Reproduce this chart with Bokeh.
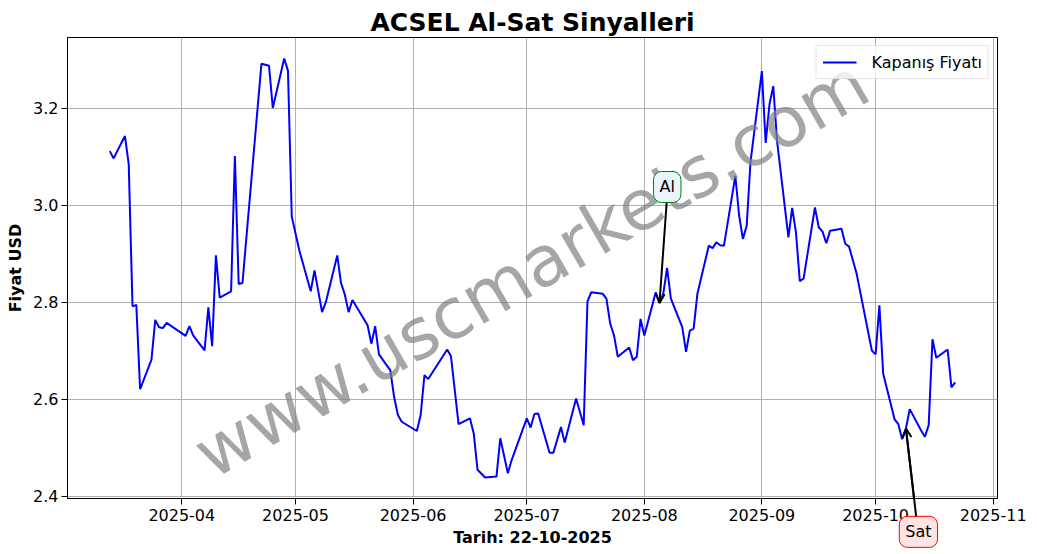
import pandas as pd
from bokeh.plotting import figure
from bokeh.models import (Range1d, FixedTicker, DatetimeTickFormatter, PrintfTickFormatter,
                          Label, Arrow, OpenHead, Legend, LegendItem)
from bokeh.core.properties import value
from bokeh.embed import file_html
from bokeh.resources import INLINE

# ---------------- data ----------------
dates = [
    "2025-03-13", "2025-03-14", "2025-03-17", "2025-03-18", "2025-03-19", "2025-03-20", "2025-03-21",
    "2025-03-24", "2025-03-25", "2025-03-26", "2025-03-27", "2025-03-28",
    "2025-04-02", "2025-04-03", "2025-04-04", "2025-04-07", "2025-04-08", "2025-04-09", "2025-04-10",
    "2025-04-11", "2025-04-14", "2025-04-15", "2025-04-16", "2025-04-17", "2025-04-22", "2025-04-24",
    "2025-04-25", "2025-04-28", "2025-04-29", "2025-04-30",
    "2025-05-02", "2025-05-05", "2025-05-06", "2025-05-08", "2025-05-09", "2025-05-12", "2025-05-13",
    "2025-05-14", "2025-05-15", "2025-05-16", "2025-05-20", "2025-05-21", "2025-05-22", "2025-05-23",
    "2025-05-26", "2025-05-27", "2025-05-28", "2025-05-29",
    "2025-06-02", "2025-06-03", "2025-06-04", "2025-06-05", "2025-06-10", "2025-06-11", "2025-06-13",
    "2025-06-16", "2025-06-17", "2025-06-18", "2025-06-20", "2025-06-23", "2025-06-24", "2025-06-26",
    "2025-06-27", "2025-06-30",
    "2025-07-01", "2025-07-02", "2025-07-03", "2025-07-04", "2025-07-07", "2025-07-08", "2025-07-10",
    "2025-07-11", "2025-07-14", "2025-07-16", "2025-07-17", "2025-07-18", "2025-07-21", "2025-07-22",
    "2025-07-23", "2025-07-24", "2025-07-25", "2025-07-28", "2025-07-29", "2025-07-30", "2025-07-31",
    "2025-08-01", "2025-08-04", "2025-08-05", "2025-08-06", "2025-08-07", "2025-08-08", "2025-08-11",
    "2025-08-12", "2025-08-13", "2025-08-14", "2025-08-15", "2025-08-18", "2025-08-19", "2025-08-20",
    "2025-08-21", "2025-08-22", "2025-08-25", "2025-08-26", "2025-08-27", "2025-08-28", "2025-08-29",
    "2025-09-01", "2025-09-02", "2025-09-03", "2025-09-04", "2025-09-05", "2025-09-08", "2025-09-09",
    "2025-09-10", "2025-09-11", "2025-09-12", "2025-09-15", "2025-09-16", "2025-09-17", "2025-09-18",
    "2025-09-19", "2025-09-22", "2025-09-23", "2025-09-24", "2025-09-26", "2025-09-30",
    "2025-10-01", "2025-10-02", "2025-10-03", "2025-10-06", "2025-10-07", "2025-10-08", "2025-10-09",
    "2025-10-10", "2025-10-13", "2025-10-14", "2025-10-15", "2025-10-16", "2025-10-17", "2025-10-20",
    "2025-10-21", "2025-10-22",
]
close = [
    3.112, 3.097, 3.143, 3.085, 2.792, 2.795, 2.621,
    2.682, 2.764, 2.749, 2.747, 2.758,
    2.731, 2.751, 2.732, 2.701, 2.790, 2.710, 2.897,
    2.810, 2.823, 3.102, 2.838, 2.840, 3.292, 3.288,
    3.201, 3.303, 3.278, 2.977,
    2.907, 2.823, 2.866, 2.780, 2.801, 2.897, 2.840,
    2.816, 2.780, 2.805, 2.753, 2.715, 2.751, 2.693,
    2.660, 2.605, 2.568, 2.554,
    2.535, 2.568, 2.650, 2.642, 2.703, 2.689, 2.549,
    2.561, 2.530, 2.455, 2.439, 2.441, 2.520, 2.448,
    2.475, 2.540,
    2.561, 2.542, 2.570, 2.571, 2.490, 2.490, 2.543,
    2.511, 2.602, 2.547, 2.802, 2.821, 2.818, 2.808,
    2.756, 2.732, 2.688, 2.707, 2.681, 2.688, 2.766,
    2.732, 2.821, 2.799, 2.818, 2.871, 2.808, 2.749,
    2.698, 2.742, 2.746, 2.818, 2.917, 2.912, 2.924,
    2.918, 2.917, 3.061, 2.979, 2.931, 2.958, 3.090,
    3.277, 3.129, 3.208, 3.246, 3.133, 2.934, 2.995,
    2.944, 2.844, 2.849, 2.996, 2.955, 2.946, 2.922,
    2.948, 2.952, 2.921, 2.915, 2.859, 2.701,
    2.693, 2.794, 2.653, 2.559, 2.549, 2.518, 2.540,
    2.580, 2.536, 2.523, 2.547, 2.724, 2.686, 2.703,
    2.625, 2.635,
]
x_ticks = ["2025-04-01", "2025-05-01", "2025-06-01", "2025-07-01", "2025-08-01",
           "2025-09-01", "2025-10-01", "2025-11-01"]
y_ticks = [2.4, 2.6, 2.8, 3.0, 3.2]

buy_date, buy_price = "2025-08-05", 2.799
buy_text_pos = ("2025-08-07 01:00", 3.038)
buy_arrow_start = ("2025-08-06 21:30", 3.007)
sell_date, sell_price = "2025-10-09", 2.540
sell_text_pos = ("2025-10-12 07:00", 2.327)
sell_arrow_start = ("2025-10-11 17:00", 2.358)
watermark_pos = ("2025-07-02 05:00", 2.870)


def ms(s):
    return pd.Timestamp(s).value / 1e6


xs = pd.to_datetime(dates)
x0, x1 = xs.min(), xs.max()
pad = (x1 - x0) * 0.05
ymin, ymax = min(close), max(close)
ypad = (ymax - ymin) * 0.05

FONT = "DejaVu Sans"

p = figure(frame_width=930, frame_height=461, x_axis_type="datetime", output_backend="svg",
           toolbar_location=None,
           x_range=Range1d(x0 - pad, x1 + pad),
           y_range=Range1d(ymin - ypad, ymax + ypad),
           min_border_left=67, min_border_right=32, min_border_top=37, min_border_bottom=0)

p.title.text = "ACSEL Al-Sat Sinyalleri"
p.title.text_font = FONT
p.title.text_font_size = "25px"
p.title.text_font_style = "bold"
p.title.text_color = "black"
p.title.align = "center"
p.title.vertical_align = "bottom"
p.title.standoff = 2
p.title.offset = 0

line = p.line(xs, close, line_color="blue", line_width=2)

# axes
p.xaxis.ticker = FixedTicker(ticks=[ms(t) for t in x_ticks])
p.xaxis.formatter = DatetimeTickFormatter(
    milliseconds="%Y-%m", seconds="%Y-%m", minsec="%Y-%m", minutes="%Y-%m", hourmin="%Y-%m",
    hours="%Y-%m", days="%Y-%m", months="%Y-%m", years="%Y-%m")
p.yaxis.ticker = FixedTicker(ticks=y_ticks)
p.yaxis.formatter = PrintfTickFormatter(format="%.1f")

for ax in (p.xaxis[0], p.yaxis[0]):
    ax.major_label_text_font = FONT
    ax.major_label_text_font_size = "16px"
    ax.major_label_text_color = "black"
    ax.axis_label_text_font = FONT
    ax.axis_label_text_font_size = "16px"
    ax.axis_label_text_font_style = "bold"
    ax.axis_label_text_color = "black"
    ax.major_tick_out = 6
    ax.major_tick_in = 0
    ax.minor_tick_out = 0
    ax.minor_tick_in = 0
    ax.axis_line_color = "black"
    ax.major_tick_line_color = "black"

p.xaxis.axis_label = "Tarih: 22-10-2025"
p.xaxis.major_label_standoff = 4
p.xaxis.axis_label_standoff = 4
p.yaxis.axis_label = "Fiyat USD"
p.yaxis.major_label_standoff = 3
p.yaxis.axis_label_standoff = 5

p.grid.grid_line_color = "#b0b0b0"
p.grid.grid_line_width = 1
p.outline_line_color = "black"
p.outline_line_width = 1
p.outline_line_alpha = 1

# watermark
p.add_layout(Label(x=ms(watermark_pos[0]), y=watermark_pos[1], text="www.uscmarkets.com",
                   angle=30, angle_units="deg", text_font=FONT, text_font_size="70px",
                   text_color="#808080", text_alpha=0.7, text_align="center",
                   text_baseline="middle"))

# buy / sell annotations
p.add_layout(Arrow(end=OpenHead(size=9, line_width=2, line_color="black"),
                   x_start=ms(buy_arrow_start[0]), y_start=buy_arrow_start[1],
                   x_end=ms(buy_date), y_end=buy_price, line_width=2, line_color="black"))
p.add_layout(Arrow(end=OpenHead(size=9, line_width=2, line_color="black"),
                   x_start=ms(sell_arrow_start[0]), y_start=sell_arrow_start[1],
                   x_end=ms(sell_date), y_end=sell_price, line_width=2, line_color="black"))
# shaft of the sell arrow outside the frame
p.segment(x0=[ms(sell_arrow_start[0])], y0=[sell_arrow_start[1]],
          x1=[ms(sell_date)], y1=[sell_price], line_color="black", line_width=2,
          level="overlay")

p.add_layout(Label(x=ms(buy_text_pos[0]), y=buy_text_pos[1], text="Al", text_font=FONT,
                   text_font_size="16px", text_color="black", text_align="center",
                   text_baseline="middle", background_fill_color="#eaf4fc",
                   border_line_color="green", border_line_width=1, padding=6, border_radius=8))
p.text(x=[ms(sell_text_pos[0])], y=[sell_text_pos[1]], text=["Sat"],
       text_font=value(FONT), text_font_size="16px", text_color="black",
       text_align="center", text_baseline="middle",
       background_fill_color="#ffe4e4", border_line_color="red", border_line_width=1,
       padding=6, border_radius=8, level="overlay")

legend = Legend(items=[LegendItem(label="Kapanış Fiyatı", renderers=[line])],
                location="top_right", label_text_font=FONT, label_text_font_size="16px",
                label_text_color="black",
                glyph_width=34, label_standoff=15, padding=6, margin=8, spacing=0,
                border_line_color="#cccccc", border_line_width=1,
                background_fill_alpha=0.8)
p.add_layout(legend)

open("out.html", "w").write(file_html(p, INLINE))
